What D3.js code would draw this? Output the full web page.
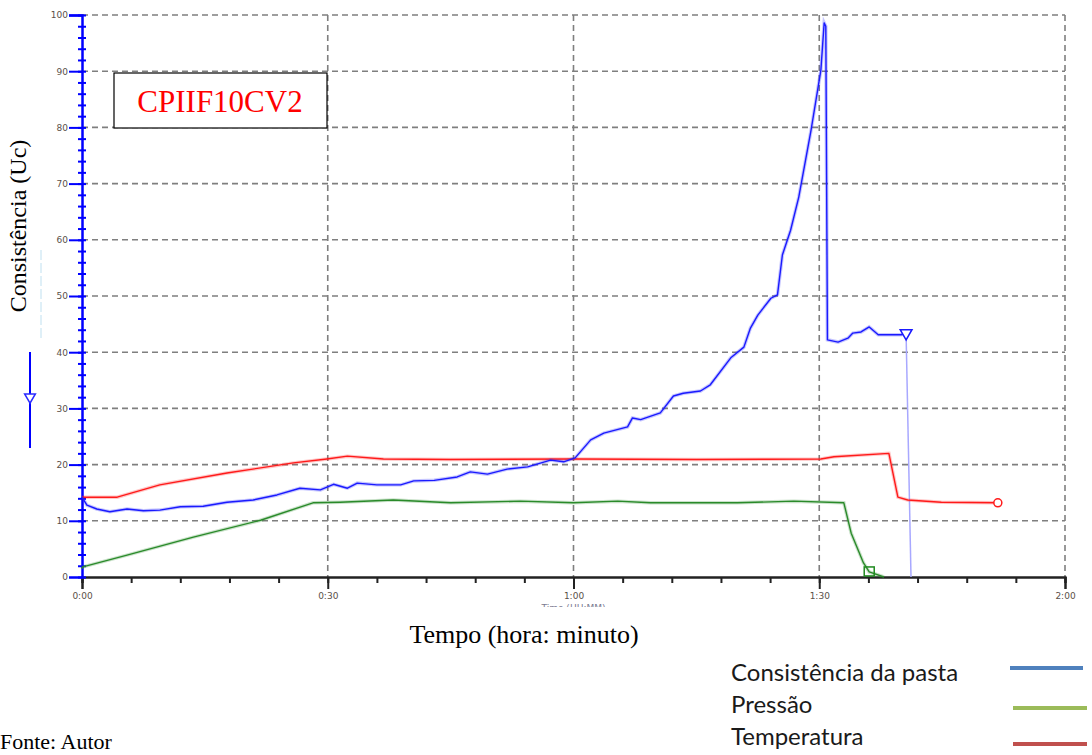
<!DOCTYPE html>
<html>
<head>
<meta charset="utf-8">
<script src="https://cdn.jsdelivr.net/npm/d3@7"></script>
<style>
  body { margin: 0; background: #fff; }
  svg { display: block; }
</style>
</head>
<body>
<div id="chart"></div>
<script>
// tempo em minutos
var consistTime = [0, 0.6, 1.8, 3.4, 5.5, 7.5, 9.5, 12, 14.8, 17.7, 20.9, 23.8, 26.6, 29.1, 30.7, 32.4, 33.6, 36, 38.9, 40.5, 43, 45.8, 47.4, 49.5, 51.9, 54.4, 57.2, 58.8, 60.2, 62.1, 63.7, 66.6, 67.2, 68.2, 70.6, 72.2, 73.4, 75.5, 76.7, 79.2, 80.8, 81.6, 82.5, 84.1, 84.9, 85.5, 86.5, 87.5, 89, 90.2, 90.6, 90.8, 91, 92.3, 93.5, 94.1, 95.1, 96.1, 97.2, 100, 100.6];
var consistValue = [14.2, 12.8, 12.1, 11.6, 12.1, 11.8, 11.9, 12.5, 12.6, 13.3, 13.7, 14.6, 15.8, 15.5, 16.5, 15.8, 16.7, 16.4, 16.4, 17.1, 17.2, 17.8, 18.7, 18.3, 19.2, 19.6, 20.8, 20.5, 21.2, 24.4, 25.6, 26.7, 28.3, 28, 29.2, 32.2, 32.7, 33.1, 34.2, 39, 40.9, 44.3, 46.6, 49.6, 50.2, 57.3, 61.7, 67.6, 79.5, 90.2, 98.6, 98, 42.2, 41.8, 42.5, 43.4, 43.6, 44.5, 43.1, 43.1, 43.4];
// queda final (linha clara)
var consistTailTime = [100.6, 101.2];
var consistTailValue = [43.4, 0];

var tempTime = [0, 4.3, 9.5, 17.7, 25.8, 29.9, 32.4, 36.8, 45, 60, 75, 90.2, 91.8, 98.5, 99.6, 100.8, 104.9, 111.8];
var tempValue = [14.2, 14.2, 16.4, 18.5, 20.3, 21.0, 21.5, 21.0, 20.9, 21.0, 20.9, 21.0, 21.4, 22.0, 14.2, 13.7, 13.3, 13.2];

var pressTime = [0, 0.1, 5.5, 13.6, 21.8, 28.2, 31.5, 38, 45, 53.5, 60, 65.4, 69.4, 80, 86.9, 93, 93.9, 95.4, 96.1, 97.9];
var pressValue = [1.5, 1.8, 3.9, 7.1, 10.1, 13.2, 13.3, 13.7, 13.2, 13.5, 13.2, 13.5, 13.2, 13.2, 13.5, 13.2, 7.8, 2.5, 0.9, 0];

var yTicks = [0, 10, 20, 30, 40, 50, 60, 70, 80, 90, 100];
var xTicks = [0, 30, 60, 90, 120];
var xTickLabels = ["0:00", "0:30", "1:00", "1:30", "2:00"];

var legendNames = ["Consistência da pasta", "Pressão", "Temperatura"];
var legendColors = ["#4f81bd", "#9bbb59", "#c0504d"];

var width = 1092, height = 755;
var svg = d3.select("#chart").append("svg")
    .attr("width", width)
    .attr("height", height);

var x = d3.scaleLinear().domain([0, 120]).range([82, 1065]);
var y = d3.scaleLinear().domain([0, 100]).range([577, 15]);

// grade tracejada
svg.append("g").selectAll("line")
    .data(yTicks.filter(function (d) { return d > 0; }))
    .enter().append("line")
    .attr("x1", x(0)).attr("x2", x(120))
    .attr("y1", function (d) { return y(d); })
    .attr("y2", function (d) { return y(d); })
    .attr("stroke", "#7f7f7f").attr("stroke-width", 1.6)
    .attr("stroke-dasharray", "6,4");

svg.append("g").selectAll("line")
    .data(xTicks.filter(function (d) { return d > 0; }))
    .enter().append("line")
    .attr("x1", function (d) { return x(d); })
    .attr("x2", function (d) { return x(d); })
    .attr("y1", y(100)).attr("y2", y(0))
    .attr("stroke", "#7f7f7f").attr("stroke-width", 1.6)
    .attr("stroke-dasharray", "6,4");

// eixo x
var xMinor = svg.append("g")
    .attr("transform", "translate(0," + y(0) + ")")
    .call(d3.axisBottom(x).tickValues(d3.range(0, 121, 6)).tickSize(6).tickFormat(""));
var xMajor = svg.append("g")
    .attr("transform", "translate(0," + y(0) + ")")
    .call(d3.axisBottom(x).tickValues(xTicks).tickSize(12)
        .tickFormat(function (d, i) { return xTickLabels[i]; }));
[xMinor, xMajor].forEach(function (g) {
    g.select(".domain").attr("stroke", "#222").attr("stroke-width", 2);
    g.selectAll(".tick line").attr("stroke", "#222").attr("stroke-width", 2);
});
xMajor.selectAll(".tick text")
    .attr("y", 16)
    .style("font-family", "DejaVu Sans")
    .style("font-size", "9px")
    .attr("fill", "#5a5048");

// titulo original do eixo, parcialmente coberto
svg.append("clipPath").attr("id", "cut")
    .append("rect").attr("x", 0).attr("y", 600).attr("width", width).attr("height", 7);
svg.append("text")
    .attr("clip-path", "url(#cut)")
    .attr("x", x(60)).attr("y", 611)
    .attr("text-anchor", "middle")
    .style("font-family", "DejaVu Sans")
    .style("font-size", "9px")
    .attr("fill", "#7a7a90")
    .text("Time (HH:MM)");

// eixo y
var yMinor = svg.append("g")
    .attr("transform", "translate(" + (x(0) + 4) + ",0)")
    .call(d3.axisLeft(y).tickValues(d3.range(0, 101, 2)).tickSize(8).tickFormat(""));
var yMajor = svg.append("g")
    .attr("transform", "translate(" + x(0) + ",0)")
    .call(d3.axisLeft(y).tickValues(yTicks).tickSize(13));
yMinor.select(".domain").remove();
yMinor.selectAll(".tick line").attr("stroke", "#0000ff").attr("stroke-width", 2);
yMajor.select(".domain").attr("stroke", "#0000ff").attr("stroke-width", 2.5);
yMajor.selectAll(".tick line").attr("stroke", "#0000ff").attr("stroke-width", 2);
yMajor.selectAll(".tick text")
    .attr("x", -14)
    .style("font-family", "DejaVu Sans")
    .style("font-size", "9px")
    .attr("fill", "#5a5048");
yMajor.selectAll(".tick").filter(function (d) { return d === 0; })
    .select("line").remove();

// curvas
function series(times, values) {
    return times.map(function (t, i) { return [t, values[i]]; });
}
var line = d3.line()
    .x(function (d) { return x(d[0]); })
    .y(function (d) { return y(d[1]); });

var curves = [
    { data: series(tempTime, tempValue), color: "#ff1a1a" },
    { data: series(pressTime, pressValue), color: "#2a8a2a" },
    { data: series(consistTime, consistValue), color: "#1a1aff" }
];

svg.append("path")
    .attr("d", line(series(consistTailTime, consistTailValue)))
    .attr("fill", "none").attr("stroke", "#a8a8ff").attr("stroke-width", 1.5);

curves.forEach(function (c) {
    svg.append("path").attr("d", line(c.data))
        .attr("fill", "none").attr("stroke", c.color)
        .attr("stroke-opacity", 0.25).attr("stroke-width", 3.5);
    svg.append("path").attr("d", line(c.data))
        .attr("fill", "none").attr("stroke", c.color)
        .attr("stroke-width", 1.4).attr("stroke-linejoin", "round");
});

// marcadores
var lastC = consistTime.length - 1;
svg.append("path")
    .attr("d", d3.symbol().type(d3.symbolTriangle).size(60)())
    .attr("transform", "translate(" + x(consistTime[lastC]) + "," + y(consistValue[lastC]) + ") rotate(180)")
    .attr("fill", "#fff").attr("stroke", "#1a1aff").attr("stroke-width", 1.5);

var sqIdx = pressTime.length - 2;
svg.append("rect")
    .attr("x", x(pressTime[sqIdx]) - 5).attr("y", y(pressValue[sqIdx]) - 5)
    .attr("width", 10).attr("height", 9)
    .attr("fill", "none").attr("stroke", "#1f8a1f").attr("stroke-width", 1.5);

var lastT = tempTime.length - 1;
svg.append("circle")
    .attr("cx", x(tempTime[lastT])).attr("cy", y(tempValue[lastT]))
    .attr("r", 4)
    .attr("fill", "#fff").attr("stroke", "#ff1a1a").attr("stroke-width", 1.5);

// seta azul do eixo
svg.append("line")
    .attr("x1", 30).attr("x2", 30).attr("y1", 352).attr("y2", 448)
    .attr("stroke", "#0000ff").attr("stroke-width", 2);
svg.append("path")
    .attr("d", d3.symbol().type(d3.symbolTriangle).size(50)())
    .attr("transform", "translate(30,397) rotate(180)")
    .attr("fill", "#fff").attr("stroke", "#2a2aff").attr("stroke-width", 1.5);
svg.append("line")
    .attr("x1", 41).attr("x2", 41).attr("y1", 250).attr("y2", 338)
    .attr("stroke", "#bfe0f0").attr("stroke-width", 1)
    .attr("stroke-dasharray", "10,3");

// titulo do eixo y
svg.append("text")
    .attr("transform", "translate(26,226) rotate(-90)")
    .attr("text-anchor", "middle")
    .style("font-family", "Liberation Serif")
    .style("font-size", "24px")
    .text("Consistência (Uc)");

// caixa com nome da amostra
svg.append("rect")
    .attr("x", 114).attr("y", 73).attr("width", 213).attr("height", 55)
    .attr("fill", "#fff").attr("stroke", "#000").attr("stroke-width", 1.2);
svg.append("text")
    .attr("x", 220).attr("y", 112)
    .attr("text-anchor", "middle")
    .style("font-family", "Liberation Serif")
    .style("font-size", "31px")
    .attr("fill", "#ff0000")
    .text("CPIIF10CV2");

// titulo do eixo x
svg.append("text")
    .attr("x", 524).attr("y", 643)
    .attr("text-anchor", "middle")
    .style("font-family", "Liberation Serif")
    .style("font-size", "26px")
    .text("Tempo (hora: minuto)");

// legenda
var legendLineY = [668, 708, 744];
var leg = svg.append("g").selectAll("g")
    .data(legendNames)
    .enter().append("g");
leg.append("text")
    .attr("x", 731)
    .attr("y", function (d, i) { return 681 + i * 32; })
    .style("font-family", "Lato")
    .style("font-size", "24px")
    .attr("fill", "#1a1a1a")
    .text(function (d) { return d; });
leg.append("line")
    .attr("x1", function (d, i) { return i === 0 ? 1010 : 1013; })
    .attr("x2", function (d, i) { return i === 0 ? 1083 : 1087; })
    .attr("y1", function (d, i) { return legendLineY[i]; })
    .attr("y2", function (d, i) { return legendLineY[i]; })
    .attr("stroke", function (d, i) { return legendColors[i]; })
    .attr("stroke-width", 4);

svg.append("text")
    .attr("x", 0).attr("y", 749)
    .style("font-family", "Liberation Serif")
    .style("font-size", "22px")
    .text("Fonte: Autor");
</script>
</body>
</html>
